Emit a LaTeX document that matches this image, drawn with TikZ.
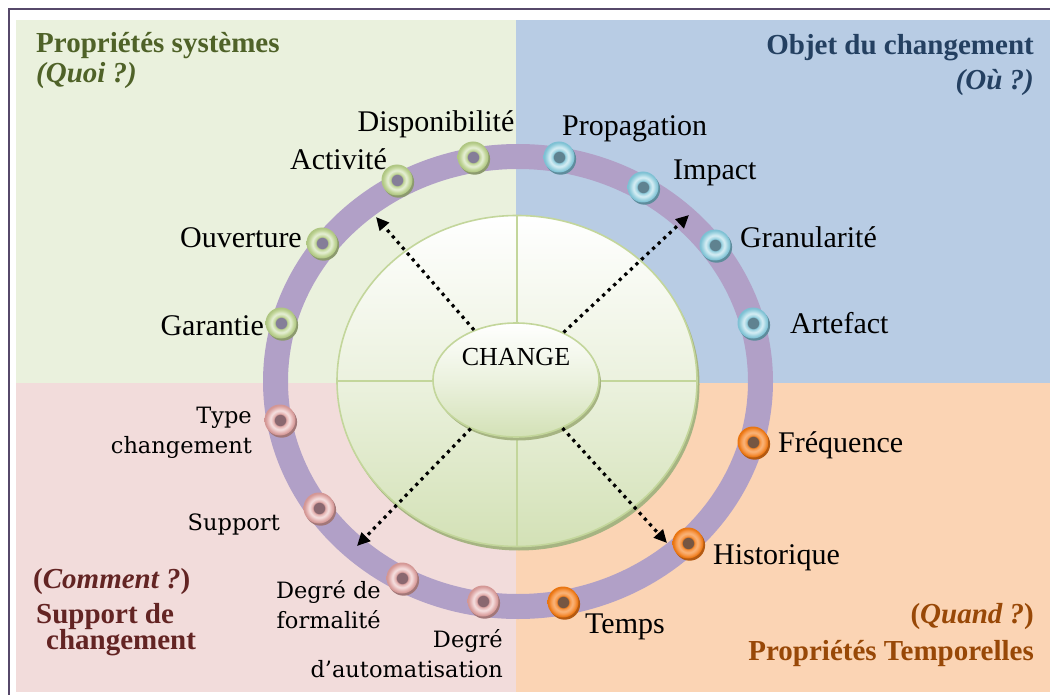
\documentclass[tikz,border=0pt]{standalone}
\usepackage{fontspec}
\setmainfont{Liberation Serif}
\newfontfamily\slabfont{DejaVu Serif}
\usetikzlibrary{arrows.meta,shapes.geometric}

% quadrant backgrounds
\definecolor{bgG}{HTML}{EAF1DD}
\definecolor{bgB}{HTML}{B8CCE4}
\definecolor{bgP}{HTML}{F2DCDB}
\definecolor{bgO}{HTML}{FBD4B4}
% header colours
\definecolor{hdG}{HTML}{4F6228}
\definecolor{hdB}{HTML}{244061}
\definecolor{hdP}{HTML}{632423}
\definecolor{hdO}{HTML}{984807}
% wheel
\definecolor{framec}{HTML}{56486A}
\definecolor{bandc}{HTML}{B1A0C7}
\definecolor{discedge}{HTML}{C3D69B}
\definecolor{discbottom}{HTML}{D3E1B6}
\definecolor{discshadow}{HTML}{A6B482}
% ring beads
\definecolor{holeG}{HTML}{857E98}\definecolor{edgeG}{HTML}{AFC682}
\definecolor{baseG}{HTML}{C6D9A0}\definecolor{lightG}{HTML}{E6EFD6}
\definecolor{shG}{HTML}{8C9A6E}
\definecolor{holeB}{HTML}{5F8290}\definecolor{edgeB}{HTML}{7DC0D3}
\definecolor{baseB}{HTML}{A2D5E2}\definecolor{lightB}{HTML}{D6EDF4}
\definecolor{shB}{HTML}{5E8C9C}
\definecolor{holeP}{HTML}{8A6870}\definecolor{edgeP}{HTML}{D39694}
\definecolor{baseP}{HTML}{E5B6B5}\definecolor{lightP}{HTML}{F5E0E0}
\definecolor{shP}{HTML}{A27778}
\definecolor{holeO}{HTML}{765642}\definecolor{edgeO}{HTML}{E8740F}
\definecolor{baseO}{HTML}{F79646}\definecolor{lightO}{HTML}{F9B47A}
\definecolor{shO}{HTML}{B45A12}

% bead shading: the circle's radius spans 25bp
\def\declaretorus#1{%
  \pgfdeclareradialshading{torus#1}{\pgfpointorigin}{%
    color(0bp)=(hole#1); color(8.6bp)=(hole#1); color(9.4bp)=(edge#1);
    color(11bp)=(base#1); color(15.5bp)=(light#1); color(20bp)=(base#1);
    color(24bp)=(edge#1); color(25bp)=(edge#1); color(50bp)=(edge#1)}}
\declaretorus{G}\declaretorus{B}\declaretorus{P}\declaretorus{O}

\begin{document}
\begin{tikzpicture}[x=1pt,y=-1pt,
  torus/.pic={
    \fill[fill=sh#1] (1.6,2.2) circle[radius=15.5pt];
    \shade[shading=torus#1] (0,0) circle[radius=15.5pt];
  },
  disc/.style={ellipse, draw=discedge, line width=1.6pt, inner sep=0pt,
    top color=white, bottom color=discbottom, middle color=white!55!discbottom},
  crossline/.style={draw=discedge, line width=1.6pt},
  dotarrow/.style={line width=3.2pt, dash pattern=on 3.2pt off 4.4pt,
    -{Triangle[length=13pt,width=12pt]}},
  lab/.style={font=\fontsize{30}{32}\selectfont, inner sep=0pt},
  slab/.style={font=\slabfont\fontsize{22.5}{30}\selectfont, inner sep=0pt, align=right},
  head/.style={font=\fontsize{29}{30}\selectfont\bfseries, inner sep=0pt},
]
\useasboundingbox (0,0) rectangle (1050,695);
\fill[white] (0,0) rectangle (1050,695);

% four quadrants
\fill[bgG] (16,20) rectangle (516,383);
\fill[bgB] (516,20) rectangle (1050,383);
\fill[bgP] (16,383) rectangle (516,692);
\fill[bgO] (516,383) rectangle (1050,692);

% page frame
\draw[framec, line width=2.4pt] (9,695) -- (9,9) -- (1050,9);

% outer ring
\draw[bandc, line width=25pt] (518,381.5) ellipse[x radius=242.5pt, y radius=225pt];

% central disc with its cross
\fill[discshadow] (519,384.5) ellipse[x radius=180.5pt, y radius=166pt];
\node[disc, minimum width=360pt, minimum height=331pt] (disc) at (517,381) {};
\draw[crossline] (disc.north) -- (disc.south);
\draw[crossline] (disc.west) -- (disc.east);

% hub
\fill[discshadow] (518,383) ellipse[x radius=83pt, y radius=57.5pt];
\node[disc, minimum width=166pt, minimum height=114pt] (change) at (516,380) {};
\node[font=\fontsize{26}{28}\selectfont, inner sep=0pt] (changetext) at (516,357) {CHANGE};

% dotted arrows towards the ring
\coordinate (tipNW) at (376,217);
\coordinate (tipNE) at (689,215);
\coordinate (tipSW) at (357,546);
\coordinate (tipSE) at (667,543);
\draw[dotarrow] (change.130) -- (tipNW);
\draw[dotarrow] (change.45) -- (tipNE);
\draw[dotarrow] (change.227) -- (tipSW);
\draw[dotarrow] (change.314) -- (tipSE);

% beads on the ring
\pic at (281,323) {torus=G};
\pic at (322,243) {torus=G};
\pic at (397,180) {torus=G};
\pic at (473,157) {torus=G};
\pic at (559,157) {torus=B};
\pic at (643,187) {torus=B};
\pic at (715,245) {torus=B};
\pic at (753,323) {torus=B};
\pic at (753,442) {torus=O};
\pic at (688,543) {torus=O};
\pic at (563,602) {torus=O};
\pic at (483,601) {torus=P};
\pic at (402,578) {torus=P};
\pic at (319,508) {torus=P};
\pic at (280,420) {torus=P};

% bead labels (multi-line ones are anchored on their last line)
\node[lab, anchor=base] (lDispo) at (436,132) {Disponibilité};
\node[lab, anchor=base east] (lActiv) at (387,170) {Activité};
\node[lab, anchor=base east] (lOuvert) at (302,248) {Ouverture};
\node[lab, anchor=base east] (lGarant) at (264,335) {Garantie};
\node[lab, anchor=base west] (lPropag) at (562,136) {Propagation};
\node[lab, anchor=base west] (lImpact) at (673,180) {Impact};
\node[lab, anchor=base west] (lGranul) at (740,248) {Granularité};
\node[lab, anchor=base west] (lArtef) at (790,333) {Artefact};
\node[lab, anchor=base west] (lFreq) at (778,452) {Fréquence};
\node[lab, anchor=base west] (lHisto) at (713,564) {Historique};
\node[lab, anchor=base west] (lTemps) at (585,633) {Temps};
\node[slab, anchor=base east] (lType) at (252,453) {Type\\changement};
\node[slab, anchor=base east] (lSupport) at (280,530) {Support};
\node[slab, anchor=base east] (lFormal) at (381,628) {Degré de\\formalité};
\node[slab, anchor=base east] (lAuto) at (503,677) {Degré\\d’automatisation};

% quadrant headings
\node[head, text=hdG, anchor=base west] (hG1) at (36,53) {Propriétés systèmes};
\node[head, text=hdG, anchor=base west] (hG2) at (36,83) {\itshape(Quoi ?)};
\node[head, text=hdB, anchor=base east] (hB1) at (1034,55) {Objet du changement};
\node[head, text=hdB, anchor=base east] (hB2) at (1034,90) {\itshape(Où ?)};
\node[head, text=hdP, anchor=base west] (hP1) at (33,588) {(\textit{Comment ?})};
\node[head, text=hdP, anchor=base west] (hP2) at (36,623) {Support de};
\node[head, text=hdP, anchor=base west] (hP3) at (46,649) {changement};
\node[head, text=hdO, anchor=base east] (hO1) at (1034,623) {(\textit{Quand ?})};
\node[head, text=hdO, anchor=base east] (hO2) at (1034,660) {Propriétés Temporelles};
\end{tikzpicture}
\end{document}
